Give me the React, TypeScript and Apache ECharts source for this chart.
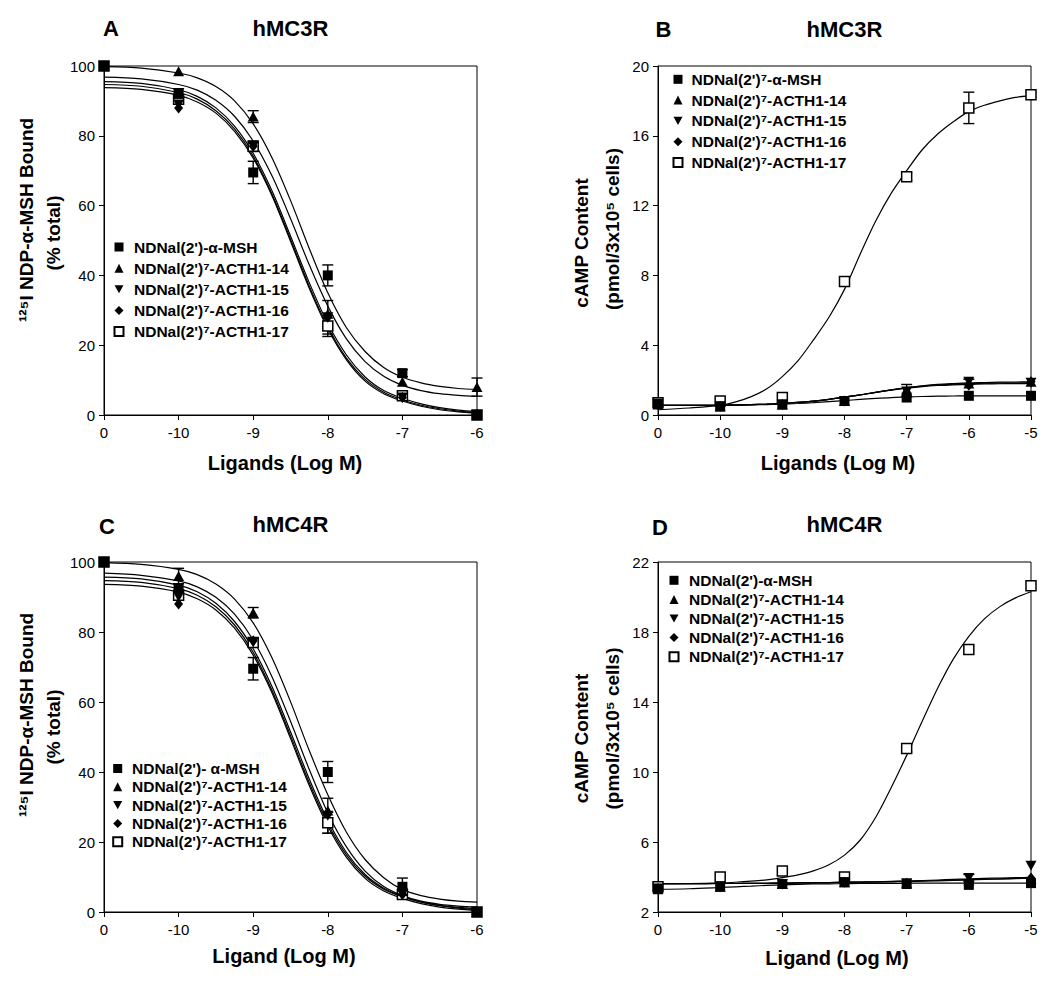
import React, { useEffect, useRef } from 'react';
import * as echarts from 'echarts';

const FONT = "'Liberation Sans', Arial, Helvetica, sans-serif";

// ---- x positions (first tick "0" is the control, placed at -11 on the log scale) ----
const DOSE_X_AC = [-11, -10, -9, -8, -7, -6];
const DOSE_X_BD = [-11, -10, -9, -8, -7, -6, -5];
const X_TICK_LABELS_AC = ['0', '-10', '-9', '-8', '-7', '-6'];
const X_TICK_LABELS_BD = ['0', '-10', '-9', '-8', '-7', '-6', '-5'];
const Y_TICKS_A = [0, 20, 40, 60, 80, 100];
const Y_TICKS_B = [0, 4, 8, 12, 16, 20];
const Y_TICKS_C = [0, 20, 40, 60, 80, 100];
const Y_TICKS_D = [2, 6, 10, 14, 18, 22];

const FIT_X_AC = [-11, -10.5, -10, -9.75, -9.5, -9.25, -9, -8.75, -8.5, -8.25, -8, -7.75, -7.5, -7.25, -7, -6.75, -6.5, -6.25, -6];
const FIT_X_BD = [-11, -10.5, -10, -9.75, -9.5, -9.25, -9, -8.75, -8.5, -8.25, -8, -7.75, -7.5, -7.25, -7, -6.75, -6.5, -6.25, -6, -5.75, -5.5, -5.25, -5];

// ---- legend / series names ----
const NAMES_A = ["NDNal(2')-α-MSH", "NDNal(2')⁷-ACTH1-14", "NDNal(2')⁷-ACTH1-15", "NDNal(2')⁷-ACTH1-16", "NDNal(2')⁷-ACTH1-17"];
const NAMES_B = ["NDNal(2')⁷-α-MSH", "NDNal(2')⁷-ACTH1-14", "NDNal(2')⁷-ACTH1-15", "NDNal(2')⁷-ACTH1-16", "NDNal(2')⁷-ACTH1-17"];
const NAMES_C = ["NDNal(2')- α-MSH", "NDNal(2')⁷-ACTH1-14", "NDNal(2')⁷-ACTH1-15", "NDNal(2')⁷-ACTH1-16", "NDNal(2')⁷-ACTH1-17"];
const NAMES_D = ["NDNal(2')-α-MSH", "NDNal(2')⁷-ACTH1-14", "NDNal(2')⁷-ACTH1-15", "NDNal(2')⁷-ACTH1-16", "NDNal(2')⁷-ACTH1-17"];

// ---- panel A: hMC3R binding (% total) ----
const A_MSH = [100, 92, 69.5, 40, 12, 0];
const A_14 = [100, 98.5, 85.5, 29, 9.5, 8];
const A_15 = [100, 89, 77, 28, 5, 0];
const A_16 = [100, 88, 77, 28, 5, 0];
const A_17 = [100, 90.5, 77, 25.5, 5.5, 0];
const A_MSH_ERR = [0, 1.5, 3.2, 3.0, 1.0, 0];
const A_14_ERR = [0, 0, 1.7, 0, 0, 2.6];
const A_15_ERR = [0, 0, 0, 4.8, 0, 0];
const A_16_ERR = [0, 0, 0, 0, 0, 0];
const A_17_ERR = [0, 0, 1.5, 3.0, 1.0, 0];
const A_FIT_MSH = [95.5, 95.0, 93.2, 91.3, 88.0, 82.8, 75.0, 64.3, 51.3, 38.0, 26.2, 17.2, 10.9, 7.0, 4.8, 3.2, 2.1, 1.4, 1.0];
const A_FIT_14 = [99.8, 99.4, 98.0, 96.6, 94.1, 90.0, 83.4, 73.8, 61.5, 47.8, 35.0, 25.0, 18.2, 13.6, 10.8, 9.2, 8.2, 7.6, 7.3];
const A_FIT_15 = [94.7, 94.2, 92.4, 90.5, 87.2, 82.0, 74.2, 63.4, 50.4, 37.0, 25.3, 16.3, 10.2, 6.5, 4.3, 2.8, 1.8, 1.1, 0.7];
const A_FIT_16 = [93.8, 93.3, 91.6, 89.7, 86.5, 81.3, 73.6, 62.9, 49.8, 36.4, 24.7, 15.8, 9.7, 6.1, 4.0, 2.5, 1.5, 0.9, 0.5];
const A_FIT_17 = [96.8, 96.3, 94.7, 93.1, 90.2, 85.6, 78.5, 68.6, 56.3, 43.1, 31.2, 21.8, 15.3, 11.1, 8.5, 7.0, 6.1, 5.6, 5.3];

// ---- panel B: hMC3R cAMP ----
const B_MSH = [0.65, 0.48, 0.6, 0.8, 1.0, 1.1, 1.1];
const B_14 = [0.6, 0.5, 0.6, 0.8, 1.4, 1.8, 1.9];
const B_15 = [0.6, 0.5, 0.6, 0.8, 1.35, 1.9, 1.85];
const B_16 = [0.6, 0.5, 0.6, 0.8, 1.3, 1.7, 1.9];
const B_17 = [0.7, 0.8, 1.0, 7.65, 13.65, 17.6, 18.35];
const B_MSH_ERR = [0, 0, 0, 0, 0, 0, 0];
const B_14_ERR = [0, 0, 0, 0, 0.35, 0, 0];
const B_15_ERR = [0, 0, 0, 0, 0, 0.15, 0];
const B_16_ERR = [0, 0, 0, 0, 0, 0, 0];
const B_17_ERR = [0, 0, 0, 0.2, 0.2, 0.9, 0.15];
const B_FIT_MSH = [0.55, 0.55, 0.56, 0.57, 0.58, 0.6, 0.62, 0.66, 0.71, 0.77, 0.83, 0.89, 0.95, 1.0, 1.03, 1.06, 1.08, 1.09, 1.1, 1.1, 1.1, 1.1, 1.1];
const B_FIT_14 = [0.55, 0.55, 0.56, 0.57, 0.59, 0.62, 0.66, 0.72, 0.8, 0.9, 1.02, 1.15, 1.3, 1.43, 1.54, 1.63, 1.69, 1.73, 1.76, 1.78, 1.79, 1.8, 1.8];
const B_FIT_15 = [0.55, 0.55, 0.56, 0.57, 0.59, 0.62, 0.66, 0.72, 0.8, 0.9, 1.02, 1.15, 1.3, 1.44, 1.56, 1.65, 1.72, 1.77, 1.8, 1.82, 1.83, 1.84, 1.85];
const B_FIT_16 = [0.55, 0.55, 0.56, 0.57, 0.59, 0.62, 0.66, 0.72, 0.8, 0.9, 1.02, 1.15, 1.3, 1.44, 1.57, 1.67, 1.75, 1.8, 1.84, 1.86, 1.88, 1.89, 1.9];
const B_FIT_17 = [0.3, 0.4, 0.55, 0.75, 1.05, 1.5, 2.2, 3.1, 4.3, 5.6, 7.2, 9.2, 11.1, 12.7, 14.0, 15.2, 16.1, 16.8, 17.4, 17.75, 18.0, 18.2, 18.3];

// ---- panel C: hMC4R binding (% total) ----
const C_MSH = [100, 92.5, 69.5, 40, 7.2, 0];
const C_14 = [100, 96, 85.5, 29, 6, 0];
const C_15 = [100, 90, 77, 27.5, 5.5, 0];
const C_16 = [100, 88, 77.5, 28, 5, 0];
const C_17 = [100, 90.5, 77, 25.5, 5, 0];
const C_MSH_ERR = [0, 0, 3.2, 3.0, 2.5, 0];
const C_14_ERR = [0, 2.2, 1.5, 0, 0, 0];
const C_15_ERR = [0, 0, 0, 5.0, 0, 0];
const C_16_ERR = [0, 0, 0, 0, 0, 0];
const C_17_ERR = [0, 0, 1.2, 3.0, 0, 0];
const C_FIT_MSH = [95.7, 95.2, 93.4, 91.5, 88.2, 83.0, 75.2, 64.5, 51.5, 38.1, 26.2, 17.0, 10.7, 6.8, 4.5, 2.9, 1.9, 1.3, 0.9];
const C_FIT_14 = [99.8, 99.3, 97.9, 96.4, 93.7, 89.4, 82.6, 72.7, 60.1, 46.2, 33.5, 22.8, 15.0, 9.8, 6.4, 4.7, 3.7, 3.1, 2.8];
const C_FIT_15 = [94.7, 94.2, 92.4, 90.5, 87.2, 82.0, 74.2, 63.4, 50.4, 37.0, 25.3, 16.3, 10.2, 6.5, 4.3, 2.8, 1.8, 1.1, 0.7];
const C_FIT_16 = [93.6, 93.1, 91.4, 89.5, 86.3, 81.1, 73.4, 62.7, 49.6, 36.2, 24.5, 15.6, 9.6, 6.0, 3.9, 2.4, 1.4, 0.8, 0.4];
const C_FIT_17 = [96.8, 96.2, 94.6, 92.9, 89.9, 85.1, 77.7, 67.3, 54.5, 40.8, 28.3, 18.6, 11.7, 7.3, 4.7, 3.1, 2.2, 1.7, 1.4];

// ---- panel D: hMC4R cAMP ----
const D_MSH = [3.3, 3.45, 3.6, 3.7, 3.6, 3.55, 3.65];
const D_14 = [3.35, 3.45, 3.6, 3.7, 3.65, 3.8, 3.9];
const D_15 = [3.35, 3.45, 3.6, 3.7, 3.65, 3.95, 4.65];
const D_16 = [3.35, 3.45, 3.6, 3.7, 3.65, 3.75, 3.95];
const D_17 = [3.45, 4.0, 4.35, 4.0, 11.35, 17.0, 20.65];
const D_MSH_ERR = [0, 0, 0, 0, 0, 0, 0];
const D_14_ERR = [0, 0, 0, 0, 0, 0, 0];
const D_15_ERR = [0, 0, 0, 0, 0, 0.2, 0];
const D_16_ERR = [0, 0, 0, 0, 0, 0, 0];
const D_17_ERR = [0, 0, 0, 0, 0.2, 0, 0];
const D_FIT_MSH = [3.3, 3.33, 3.4, 3.44, 3.48, 3.52, 3.55, 3.58, 3.6, 3.61, 3.62, 3.63, 3.63, 3.64, 3.64, 3.65, 3.65, 3.65, 3.65, 3.65, 3.65, 3.65, 3.65];
const D_FIT_14 = [3.62, 3.62, 3.63, 3.63, 3.64, 3.64, 3.65, 3.66, 3.67, 3.68, 3.7, 3.71, 3.72, 3.74, 3.75, 3.77, 3.8, 3.82, 3.85, 3.87, 3.9, 3.92, 3.95];
const D_FIT_15 = [3.62, 3.62, 3.63, 3.63, 3.64, 3.64, 3.65, 3.66, 3.67, 3.68, 3.7, 3.71, 3.73, 3.75, 3.77, 3.8, 3.83, 3.86, 3.89, 3.92, 3.94, 3.96, 3.98];
const D_FIT_16 = [3.62, 3.62, 3.63, 3.63, 3.64, 3.64, 3.65, 3.66, 3.67, 3.68, 3.69, 3.7, 3.71, 3.72, 3.74, 3.76, 3.78, 3.8, 3.83, 3.86, 3.88, 3.91, 3.93];
const D_FIT_17 = [3.62, 3.63, 3.66, 3.7, 3.76, 3.84, 3.96, 4.12, 4.35, 4.7, 5.25, 6.1, 7.4, 9.1, 10.95, 12.9, 14.8, 16.45, 17.75, 18.75, 19.45, 19.95, 20.3];

// ---- texts ----
const PANEL_LETTERS = ['A', 'B', 'C', 'D'];
const PANEL_TITLES = ['hMC3R', 'hMC3R', 'hMC4R', 'hMC4R'];
const X_NAMES = ['Ligands (Log M)', 'Ligands (Log M)', 'Ligand (Log M)', 'Ligand (Log M)'];
const Y_NAME_L1 = ['¹²⁵I NDP-α-MSH Bound', 'cAMP Content', '¹²⁵I NDP-α-MSH Bound', 'cAMP Content'];
const Y_NAME_L2 = ['(% total)', '(pmol/3x10⁵ cells)', '(% total)', '(pmol/3x10⁵ cells)'];

// ---- marker styles (per series order) ----
const MARKERS = [
  { symbol: 'rect', size: [10, 10], fill: '#000', open: false },
  { symbol: 'triangle', size: [11, 10], fill: '#000', open: false },
  { symbol: 'path://M0,0L10,0L5,9Z', size: [11, 10], fill: '#000', open: false },
  { symbol: 'diamond', size: [9, 11], fill: '#000', open: false },
  { symbol: 'rect', size: [10, 10], fill: '#fff', open: true },
];

const PANELS = [
  {
    grid: { left: 104, top: 66, width: 373, height: 349 },
    doseX: DOSE_X_AC, xLabels: X_TICK_LABELS_AC, yTicks: Y_TICKS_A, names: NAMES_A,
    values: [A_MSH, A_14, A_15, A_16, A_17], errs: [A_MSH_ERR, A_14_ERR, A_15_ERR, A_16_ERR, A_17_ERR],
    fitX: FIT_X_AC, fits: [A_FIT_MSH, A_FIT_14, A_FIT_15, A_FIT_16, A_FIT_17],
    legend: { symX: 118, textX: 133, top: 239, gap: 5.15 },
    letter: [111, 28], title: [290.5, 28.5], xName: [285, 462.5], y1: [26, 220], y2: [53.5, 233],
  },
  {
    grid: { left: 658, top: 66, width: 373, height: 349 },
    doseX: DOSE_X_BD, xLabels: X_TICK_LABELS_BD, yTicks: Y_TICKS_B, names: NAMES_B,
    values: [B_MSH, B_14, B_15, B_16, B_17], errs: [B_MSH_ERR, B_14_ERR, B_15_ERR, B_16_ERR, B_17_ERR],
    fitX: FIT_X_BD, fits: [B_FIT_MSH, B_FIT_14, B_FIT_15, B_FIT_16, B_FIT_17],
    legend: { symX: 677, textX: 690.5, top: 71.3, gap: 4.8 },
    letter: [663.5, 29], title: [844.5, 29], xName: [838, 462.5], y1: [581, 243], y2: [612, 229],
  },
  {
    grid: { left: 104, top: 562, width: 373, height: 350 },
    doseX: DOSE_X_AC, xLabels: X_TICK_LABELS_AC, yTicks: Y_TICKS_C, names: NAMES_C,
    values: [C_MSH, C_14, C_15, C_16, C_17], errs: [C_MSH_ERR, C_14_ERR, C_15_ERR, C_16_ERR, C_17_ERR],
    fitX: FIT_X_AC, fits: [C_FIT_MSH, C_FIT_14, C_FIT_15, C_FIT_16, C_FIT_17],
    legend: { symX: 116.7, textX: 131, top: 760.5, gap: 2.3 },
    letter: [107, 526.5], title: [290.5, 524.5], xName: [284, 956], y1: [26, 715], y2: [53.5, 727],
  },
  {
    grid: { left: 658, top: 562, width: 373, height: 350 },
    doseX: DOSE_X_BD, xLabels: X_TICK_LABELS_BD, yTicks: Y_TICKS_D, names: NAMES_D,
    values: [D_MSH, D_14, D_15, D_16, D_17], errs: [D_MSH_ERR, D_14_ERR, D_15_ERR, D_16_ERR, D_17_ERR],
    fitX: FIT_X_BD, fits: [D_FIT_MSH, D_FIT_14, D_FIT_15, D_FIT_16, D_FIT_17],
    legend: { symX: 673, textX: 688, top: 572.3, gap: 3.1 },
    letter: [660, 527.5], title: [844.5, 524.5], xName: [837, 958], y1: [581, 738.5], y2: [612, 728.5],
  },
];

const LEGEND_ICON = 9;

function textEl(text: string, pos: number[], size: number, bold: boolean, rotate: boolean) {
  return {
    type: 'text',
    x: pos[0],
    y: pos[1],
    rotation: rotate ? Math.PI / 2 : 0,
    silent: true,
    style: {
      text,
      fill: '#000',
      fontSize: size,
      fontWeight: bold ? 'bold' : 'normal',
      fontFamily: FONT,
      align: 'center',
      verticalAlign: 'middle',
      textAlign: 'center',
      textVerticalAlign: 'middle',
    },
  };
}

function buildOption() {
  const grid: any[] = [];
  const xAxis: any[] = [];
  const yAxis: any[] = [];
  const series: any[] = [];
  const legend: any[] = [];
  const graphic: any[] = [];
  const axisLineStyle = { color: '#000', width: 1 };

  PANELS.forEach((p, gi) => {
    grid.push({
      left: p.grid.left, top: p.grid.top, width: p.grid.width, height: p.grid.height,
      show: true, borderColor: '#000', borderWidth: 1, backgroundColor: 'transparent',
    });
    xAxis.push({
      gridIndex: gi, type: 'value',
      min: p.doseX[0], max: p.doseX[p.doseX.length - 1], interval: 1,
      axisLine: { show: true, onZero: false, lineStyle: axisLineStyle },
      axisTick: { show: true, length: 5, lineStyle: axisLineStyle },
      axisLabel: {
        margin: 10, color: '#000', fontSize: 15, fontFamily: FONT,
        formatter: (v: number) => {
          const i = p.doseX.indexOf(v);
          return i >= 0 ? p.xLabels[i] : '';
        },
      },
      splitLine: { show: false },
    });
    yAxis.push({
      gridIndex: gi, type: 'value',
      min: p.yTicks[0], max: p.yTicks[p.yTicks.length - 1],
      axisLine: { show: true, onZero: false, lineStyle: axisLineStyle },
      axisTick: { show: true, length: 5, lineStyle: axisLineStyle, customValues: p.yTicks },
      axisLabel: { margin: 9, color: '#000', fontSize: 15, fontFamily: FONT, customValues: p.yTicks },
      splitLine: { show: false },
    });

    // fitted curves
    p.fits.forEach((fit, k) => {
      series.push({
        name: 'fit-' + PANEL_LETTERS[gi] + '-' + k,
        type: 'line', xAxisIndex: gi, yAxisIndex: gi,
        data: p.fitX.map((x, i) => [x, fit[i]]),
        showSymbol: false, symbol: 'none', smooth: 0.3,
        lineStyle: { color: '#000', width: 1.2 }, silent: true, z: 2,
      });
    });

    // error bars
    const errData: number[][] = [];
    p.values.forEach((vals, k) => {
      p.errs[k].forEach((e, i) => {
        if (e > 0) errData.push([p.doseX[i], vals[i], e]);
      });
    });
    series.push({
      name: 'err-' + PANEL_LETTERS[gi],
      type: 'custom', xAxisIndex: gi, yAxisIndex: gi, silent: true, z: 3,
      encode: { x: 0, y: 1 },
      data: errData,
      renderItem: (params: any, api: any) => {
        const x = api.value(0), y = api.value(1), e = api.value(2);
        const t = api.coord([x, y + e]);
        const b = api.coord([x, y - e]);
        const hw = 5.5;
        const st = { stroke: '#000', lineWidth: 1.4 };
        return {
          type: 'group',
          children: [
            { type: 'line', shape: { x1: t[0], y1: t[1], x2: b[0], y2: b[1] }, style: st },
            { type: 'line', shape: { x1: t[0] - hw, y1: t[1], x2: t[0] + hw, y2: t[1] }, style: st },
            { type: 'line', shape: { x1: b[0] - hw, y1: b[1], x2: b[0] + hw, y2: b[1] }, style: st },
          ],
        };
      },
    });

    // data points
    p.values.forEach((vals, k) => {
      const m = MARKERS[k];
      series.push({
        name: p.names[k],
        type: 'scatter', xAxisIndex: gi, yAxisIndex: gi,
        symbol: m.symbol, symbolSize: m.size,
        itemStyle: { color: m.fill, borderColor: '#000', borderWidth: m.open ? 1.5 : 0, opacity: 1 },
        data: p.doseX.map((x, i) => [x, vals[i]]),
        z: 4 + (m.open ? 0 : 1),
      });
    });

    const legendLeft = p.legend.symX - LEGEND_ICON / 2;
    const textPad = p.legend.textX - (legendLeft + LEGEND_ICON + 5);
    legend.push({
      orient: 'vertical',
      left: legendLeft, top: p.legend.top,
      itemGap: p.legend.gap, itemWidth: LEGEND_ICON, itemHeight: LEGEND_ICON,
      padding: 0, selectedMode: false,
      data: p.names,
      textStyle: {
        fontFamily: FONT, fontWeight: 'bold', fontSize: 15.5, color: '#000',
        padding: [0, 0, 0, Math.max(0, textPad)],
      },
    });

    graphic.push(textEl(PANEL_LETTERS[gi], p.letter, 22, true, false));
    graphic.push(textEl(PANEL_TITLES[gi], p.title, 22, true, false));
    graphic.push(textEl(X_NAMES[gi], p.xName, 20, true, false));
    graphic.push(textEl(Y_NAME_L1[gi], p.y1, 19, true, true));
    graphic.push(textEl(Y_NAME_L2[gi], p.y2, 19, true, true));
  });

  return {
    animation: false,
    backgroundColor: '#fff',
    textStyle: { fontFamily: FONT },
    grid, xAxis, yAxis, series, legend, graphic,
  };
}

export default function App() {
  const ref = useRef<HTMLDivElement>(null);
  useEffect(() => {
    if (!ref.current) return;
    const chart = echarts.init(ref.current, null, { renderer: 'svg' });
    chart.setOption(buildOption() as any);
    return () => chart.dispose();
  }, []);
  return (
    <div
      ref={ref}
      style={{ position: 'absolute', left: 0, top: 0, width: 1050, height: 983, background: '#fff' }}
    />
  );
}
